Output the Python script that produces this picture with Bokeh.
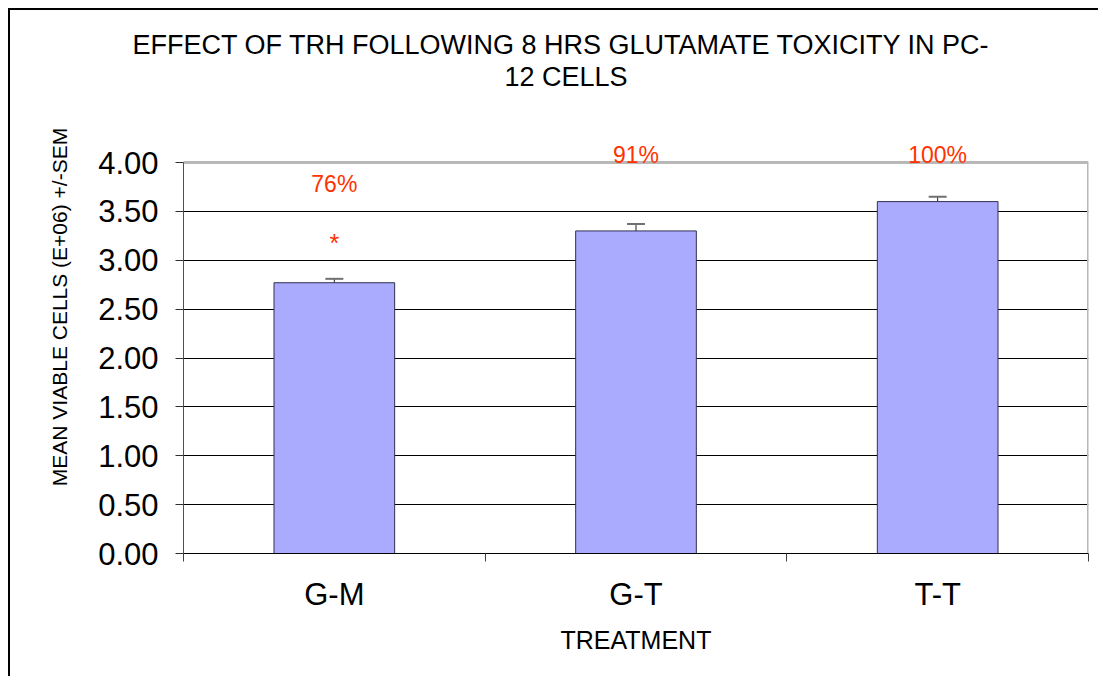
from bokeh.plotting import figure
from bokeh.models import (Range1d, FixedTicker, NumeralTickFormatter, ColumnDataSource,
                          Whisker, TeeHead, LabelSet, Label, Title)
from bokeh.core.properties import value
from bokeh.embed import file_html
from bokeh.resources import INLINE

# ---- data ----
categories = ["G-M", "G-T", "T-T"]
means = [2.77, 3.30, 3.60]
sems = [0.04, 0.07, 0.05]
pct_labels = ["76%", "91%", "100%"]
pct_label_y = [3.785, 4.08, 4.08]
sig_labels = ["*", "", ""]
sig_label_y = [3.18, 3.18, 3.18]
y_ticks = [0.0, 0.5, 1.0, 1.5, 2.0, 2.5, 3.0, 3.5, 4.0]
title_lines = ["EFFECT OF TRH FOLLOWING 8 HRS GLUTAMATE TOXICITY IN PC-", "12 CELLS"]
x_label = "TREATMENT"
y_label = "MEAN VIABLE CELLS (E+06) +/-SEM"

FONT = "Liberation Sans"

# ---- layout (pixels) ----
W, H = 1090, 668
FRAME_LEFT, FRAME_RIGHT = 173, 1078
FRAME_TOP, FRAME_BOTTOM = 50, 543
AXIS_TOP = 152           # pixel row of the top tick (4.00)
y_top = y_ticks[-1]
y_max = y_top * (FRAME_BOTTOM - FRAME_TOP) / (FRAME_BOTTOM - AXIS_TOP)

n = len(categories)
xs = [i + 0.5 for i in range(n)]
src = ColumnDataSource(dict(
    x=xs, mean=means, upper=[m + s for m, s in zip(means, sems)],
    pct=pct_labels, pct_y=pct_label_y, sig=sig_labels, sig_y=sig_label_y,
))

p = figure(width=W, height=H, x_range=Range1d(0, n), y_range=Range1d(0, y_max),
           output_backend="svg", toolbar_location=None, title=None,
           min_border_left=FRAME_LEFT, min_border_right=W - FRAME_RIGHT,
           min_border_top=FRAME_TOP, min_border_bottom=H - FRAME_BOTTOM)
p.styles = {"border-left": "2px solid black", "border-top": "2px solid black",
            "margin-left": "8px", "margin-top": "8px"}
p.background_fill_color = "white"
p.border_fill_color = "white"
p.outline_line_color = None

# title line 1 (above panel, may start left of the frame)
p.add_layout(Title(text=title_lines[0], align="left", offset=-51, standoff=0,
                   vertical_align="middle", text_font=FONT, text_font_size="27px",
                   text_font_style="normal", text_color="black"), "above")

# grid (below 4.00) and grey frame edges (top & right)
p.ygrid.ticker = FixedTicker(ticks=y_ticks[:-1])
p.ygrid.grid_line_color = "black"
p.ygrid.grid_line_width = 1
p.xgrid.visible = False
p.segment(x0=[0, n], y0=[y_top, 0], x1=[n, n], y1=[y_top, y_top],
          line_color="#b8b8b8", line_width=3)

# bars
p.vbar(x="x", top="mean", width=0.4, source=src, fill_color="#aaaaff",
       line_color="#303050", line_width=1)

# error bars (upper only)
w = Whisker(source=src, base="x", lower="mean", upper="upper", line_color="#202020",
            line_width=1, lower_head=None,
            upper_head=TeeHead(size=18, line_color="#707070", line_width=2))
p.add_layout(w)

# x axis
p.xaxis.ticker = FixedTicker(ticks=xs, minor_ticks=list(range(n + 1)))
p.xaxis.major_label_overrides = {x: c for x, c in zip(xs, categories)}
p.xaxis.major_tick_line_color = None
p.xaxis.major_tick_out = 8
p.xaxis.major_tick_in = 0
p.xaxis.minor_tick_out = 8
p.xaxis.minor_tick_in = 0
p.xaxis.minor_tick_line_color = "#404040"
p.xaxis.axis_line_color = "black"
p.xaxis.major_label_standoff = 15
p.xaxis.major_label_text_font = FONT
p.xaxis.major_label_text_font_size = "31px"
p.xaxis.major_label_text_color = "black"
p.xaxis.axis_label = x_label
p.xaxis.axis_label_text_font = FONT
p.xaxis.axis_label_text_font_size = "25px"
p.xaxis.axis_label_text_font_style = "normal"
p.xaxis.axis_label_text_color = "black"
p.xaxis.axis_label_standoff = 11

# y axis
p.yaxis.ticker = FixedTicker(ticks=y_ticks)
p.yaxis.bounds = (0, y_top)
p.yaxis.formatter = NumeralTickFormatter(format="0.00")
p.yaxis.major_tick_out = 8
p.yaxis.major_tick_in = 0
p.yaxis.minor_tick_line_color = None
p.yaxis.axis_line_color = "#505050"
p.yaxis.major_tick_line_color = "#303030"
p.yaxis.major_label_standoff = 17
p.yaxis.major_label_text_font = FONT
p.yaxis.major_label_text_font_size = "31px"
p.yaxis.major_label_text_color = "black"
p.yaxis.axis_label = y_label
p.yaxis.axis_label_text_font = FONT
p.yaxis.axis_label_text_font_size = "21px"
p.yaxis.axis_label_text_font_style = "normal"
p.yaxis.axis_label_text_color = "black"
p.yaxis.axis_label_standoff = 24

# annotations
p.add_layout(LabelSet(x="x", y="pct_y", text="pct", source=src, text_align="center",
                      text_baseline="middle", text_color="#ff3300",
                      text_font=value(FONT), text_font_size="23px"))
p.add_layout(LabelSet(x="x", y="sig_y", text="sig", source=src, text_align="center",
                      text_baseline="middle", text_color="#ff3300",
                      text_font=value(FONT), text_font_size="25px"))

# title line 2 (inside the frame area)
p.add_layout(Label(x=1.268, y=4.875, text=title_lines[1], text_align="center",
                   text_baseline="middle", text_font=FONT, text_font_size="27px",
                   text_color="black"))

open("out.html", "w").write(file_html(p, INLINE))
